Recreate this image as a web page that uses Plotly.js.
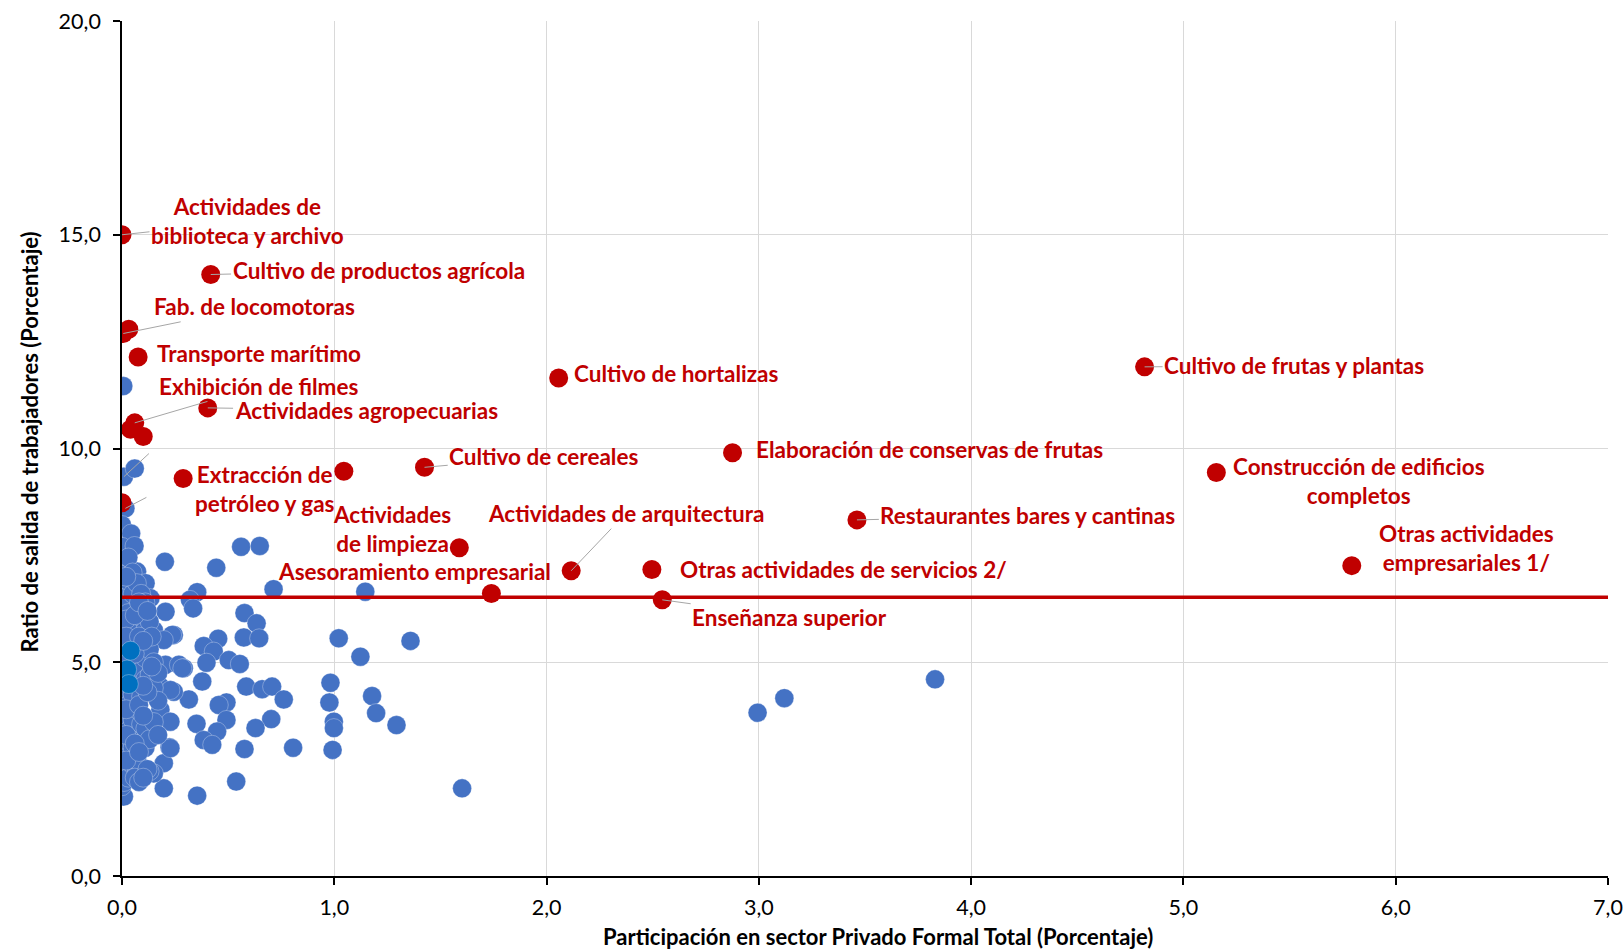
<!DOCTYPE html>
<html>
<head>
<meta charset="utf-8">
<script src="https://cdn.plot.ly/plotly-3.0.1.min.js"></script>
<style>html,body{margin:0;padding:0;background:#fff;}#chart{width:1624px;height:950px;}</style>
</head>
<body>
<div id="chart"></div>
<script>
// ---------- DATA ----------
// Blue: sectors (participation %, exit ratio %)
const blueX = [
  0.561,0.649,0.202,0.444,0.714,1.146,0.354,0.320,0.335,0.205,0.577,0.634,0.244,0.574,0.646,1.021,1.359,0.453,0.385,0.432,
  1.123,0.503,0.555,0.398,0.205,0.268,0.291,0.378,0.982,0.585,0.660,0.707,0.762,0.315,0.244,1.178,0.977,0.492,0.456,1.197,
  0.181,0.228,0.492,0.703,0.351,0.998,0.998,1.293,0.629,0.448,0.385,0.425,0.224,0.577,0.806,0.992,0.197,0.538,0.197,0.354,
  1.602,2.994,3.120,3.830,
  0.181,0.228,0.228,0.150,0.009,0.284,
  0.006,0.009,0.060,0.016,0.000,0.043,0.000,0.059,0.024,0.071,0.000,0.111,0.040,0.000,0.134,0.000,0.071,0.000,0.100,0.150,
  0.236,0.016,0.197,0.009,
  0.000,0.000,0.000,0.000,0.000,0.000,0.000,0.000,0.000,0.000,0.000,
  0.010,0.010,0.010,0.010,0.010,0.010,0.010,
  0.030,0.030,0.030,0.030,0.030,0.030,0.030,0.030,
  0.050,0.050,0.050,0.050,0.050,0.050,0.050,0.050,
  0.070,0.070,0.070,0.070,0.070,0.070,0.070,0.070,
  0.090,0.090,0.090,0.090,0.090,0.090,0.090,0.090,
  0.110,0.110,0.110,0.110,0.110,0.110,
  0.130,0.130,0.130,0.130,0.130,
  0.150,0.150,0.150,
  0.170,0.170,0.170,
  0.020,0.020,0.020,0.020,0.020,0.020,0.020,
  0.060,0.060,0.060,0.060,
  0.080,0.080,0.080,0.080,0.080,
  0.120,0.120,0.120,
  0.140,0.140,
  0.100,0.100,0.100,0.100
];
const blueY = [
  7.70,7.72,7.35,7.21,6.71,6.65,6.64,6.46,6.26,6.18,6.15,5.91,5.64,5.58,5.56,5.56,5.50,5.55,5.38,5.25,
  5.13,5.05,4.96,4.99,4.94,4.94,4.86,4.55,4.52,4.43,4.37,4.43,4.13,4.13,4.31,4.21,4.06,4.06,4.00,3.81,
  3.89,3.61,3.65,3.67,3.56,3.61,3.46,3.53,3.46,3.38,3.18,3.07,3.01,2.97,3.00,2.95,2.64,2.21,2.05,1.88,
  2.05,3.82,4.16,4.60,
  4.43,4.35,2.99,2.40,1.86,4.86,
  11.46,9.34,9.53,8.60,8.21,8.01,7.70,7.72,7.31,7.12,7.04,6.85,6.85,6.69,6.50,6.30,6.30,6.00,5.99,5.75,
  5.64,5.68,5.52,5.36,
  5.05,4.75,4.45,4.15,3.85,3.55,3.25,2.95,2.65,2.35,2.10,
  6.50,4.95,4.30,3.70,3.10,2.50,2.20,
  7.45,6.90,6.15,5.85,4.00,3.40,2.80,2.30,
  7.10,6.60,5.55,4.70,4.25,3.65,3.00,2.60,
  6.85,5.90,5.00,4.50,3.90,3.30,2.75,2.45,
  6.60,6.05,5.35,4.80,4.20,3.55,3.10,2.55,
  6.40,5.75,5.10,4.60,3.45,3.00,
  5.95,5.30,4.70,3.20,2.45,
  5.00,4.40,3.60,
  4.75,4.10,3.30,
  7.00,6.00,5.60,4.60,3.90,3.30,2.70,
  6.10,5.20,3.10,2.30,
  6.40,5.60,4.00,2.90,2.20,
  6.20,4.30,2.50,
  5.60,4.90,
  5.50,4.45,3.75,2.30
];
// Darker blue points
const darkX = [0.040,0.024,0.032];
const darkY = [5.27,4.83,4.49];

// Red: highlighted sectors
const redX = [0.000,0.418,0.006,0.076,0.060,0.404,0.288,1.589,1.425,2.057,2.876,4.817,5.155,3.462,5.793,2.116,2.496,1.740,2.545,
              0.032,0.040,0.100,1.045,0.000];
const redY = [15.00,14.07,12.69,12.14,10.60,10.95,9.30,7.68,9.56,11.65,9.90,11.91,9.44,8.33,7.26,7.14,7.17,6.61,6.46,
              12.79,10.45,10.28,9.47,8.73];
const redNames = [
  "Actividades de<br>biblioteca y archivo",
  "Cultivo de productos agrícola",
  "Fab. de locomotoras",
  "Transporte marítimo",
  "Exhibición de filmes",
  "Actividades agropecuarias",
  "Extracción de<br>petróleo y gas",
  "Actividades<br>de limpieza",
  "Cultivo de cereales",
  "Cultivo de hortalizas",
  "Elaboración de conservas de frutas",
  "Cultivo de frutas y plantas",
  "Construcción de edificios<br>completos",
  "Restaurantes bares y cantinas",
  "Otras actividades<br>empresariales 1/",
  "Actividades de arquitectura",
  "Otras actividades de servicios 2/",
  "Asesoramiento empresarial",
  "Enseñanza superior",
  "", "", "", "", ""
];
// Average exit ratio (horizontal line)
const avgRatio = 6.52;
const lineX = [0, 7];

const xTitle = 'Participación en sector Privado Formal Total (Porcentaje)';
const yTitle = 'Ratio de salida de trabajadores (Porcentaje)';

// ---------- LABEL PLACEMENT (pixel offsets, leader line on/off) ----------
const labelOffsets = [
  [125.5,-13.5,1],[167.8,-4,1],[131,-26.7,1],[121.3,-3.7,0],[123.7,-36.4,1],[158.3,2.3,1],[82,10.6,0],
  [-66.9,-18.5,0],[119.2,-10.5,1],[118.1,-4.9,0],[196.9,-3.2,0],[149.5,-1.1,1],[142.4,8.2,0],[170.9,-4,1],
  [115.2,-17.2,0],[54.3,-57.1,1],[191.6,0,0],[-76.6,-21.5,0],[127.4,17.5,1]
];
// leader lines of hidden labels on two blue points: [blue index, ax, ay]
const hiddenLeaders = [[71, 27, -25], [73, 23, -12]];

const RED = '#C00000', BLUE = '#4472C4', DARK = '#0070C0', GREY = '#A6A6A6';
const FONT = 'Lato, "Open Sans", sans-serif';
const MS = 19;

const traces = [
  {x: blueX, y: blueY, type:'scatter', mode:'markers', hoverinfo:'x+y',
   marker:{color:BLUE, size:MS, line:{width:0.6, color:'rgba(255,255,255,0.5)'}}},
  {x: darkX, y: darkY, type:'scatter', mode:'markers', hoverinfo:'x+y',
   marker:{color:DARK, size:MS, line:{width:0.6, color:'rgba(255,255,255,0.5)'}}},
  {x: lineX, y: lineX.map(() => avgRatio), type:'scatter', mode:'lines', hoverinfo:'y',
   line:{color:RED, width:3.5}},
  {x: redX, y: redY, type:'scatter', mode:'markers', hoverinfo:'x+y',
   marker:{color:RED, size:MS, line:{width:0}}}
];

const annotations = [];
redNames.forEach((t, i) => {
  if (!t) return;
  const o = labelOffsets[i];
  annotations.push({
    x: redX[i], y: redY[i], xref:'x', yref:'y', text: t,
    showarrow: true, ax: o[0], ay: o[1], arrowhead: 0, arrowwidth: 1, standoff: 0,
    arrowcolor: o[2] ? GREY : 'rgba(0,0,0,0)', align:'center',
    font:{family:FONT, size:22.5, color:RED, weight:'bold'}
  });
});
hiddenLeaders.forEach(h => {
  annotations.push({
    x: blueX[h[0]], y: blueY[h[0]], xref:'x', yref:'y', text:' ',
    showarrow:true, ax:h[1], ay:h[2], arrowhead:0, arrowwidth:1, standoff:0,
    arrowcolor:GREY, font:{size:2}
  });
});
// axis titles
annotations.push({
  text: xTitle, xref:'paper', yref:'paper', x:0.509, y:-0.0713,
  xanchor:'center', yanchor:'middle', showarrow:false,
  font:{family:FONT, size:22, color:'#000', weight:'bold'}
});
annotations.push({
  text: yTitle, xref:'paper', yref:'paper', x:-0.0629, y:0.5076, textangle:-90,
  xanchor:'center', yanchor:'middle', showarrow:false,
  font:{family:FONT, size:22, color:'#000', weight:'bold'}
});

const layout = {
  width:1624, height:950,
  margin:{l:121.5, r:16, t:21, b:74, pad:0},
  paper_bgcolor:'#fff', plot_bgcolor:'#fff',
  showlegend:false,
  separators:', ',
  font:{family:FONT, color:'#000'},
  xaxis:{
    range:[0,7], dtick:1, tick0:0, tickformat:'.1f', fixedrange:true,
    showgrid:true, gridcolor:'#D9D9D9', gridwidth:1, zeroline:false,
    showline:true, linecolor:'#000', linewidth:1.6,
    ticks:'outside', ticklen:7, tickcolor:'#000', tickwidth:1.5,
    ticklabelstandoff:4,
    tickfont:{family:FONT, size:21.5, color:'#000'}
  },
  yaxis:{
    range:[0,20], dtick:5, tick0:0, tickformat:'.1f', fixedrange:true,
    showgrid:true, gridcolor:'#D9D9D9', gridwidth:1, zeroline:false,
    showline:true, linecolor:'#000', linewidth:1.6,
    ticks:'outside', ticklen:7, tickcolor:'#000', tickwidth:1.5,
    ticklabelstandoff:8,
    tickfont:{family:FONT, size:21.5, color:'#000'}
  },
  annotations: annotations
};

Plotly.newPlot('chart', traces, layout, {displayModeBar:false});
</script>
</body>
</html>
